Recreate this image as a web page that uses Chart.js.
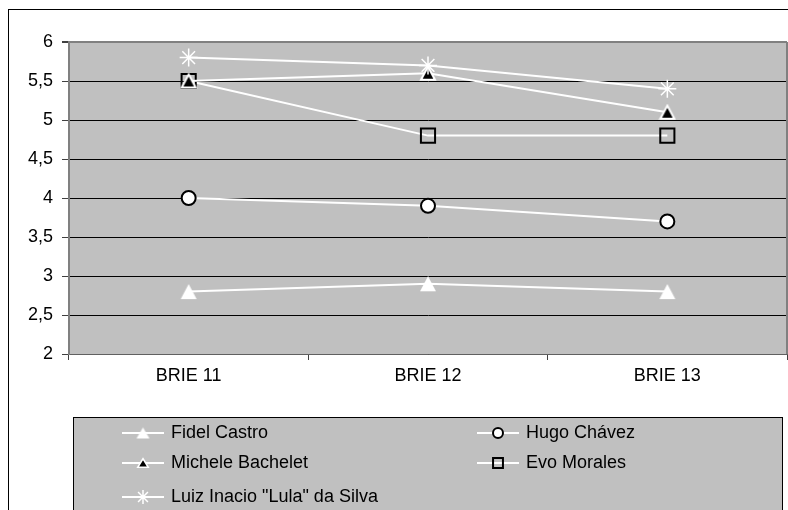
<!DOCTYPE html>
<html><head><meta charset="utf-8">
<script src="https://cdn.jsdelivr.net/npm/chart.js@4/dist/chart.umd.min.js"></script>
<style>html,body{margin:0;padding:0;background:#fff;overflow:hidden;} #wrap{width:788px;height:510px;position:relative;overflow:hidden;} canvas{display:block;}</style>
</head><body><div id="wrap"><canvas id="c" width="799" height="510"></canvas></div>
<script>
const categories = ["BRIE 11", "BRIE 12", "BRIE 13"];
const fidelCastro = [2.8, 2.9, 2.8];
const hugoChavez = [4.0, 3.9, 3.7];
const micheleBachelet = [5.5, 5.6, 5.1];
const evoMorales = [5.5, 4.8, 4.8];
const lulaDaSilva = [5.8, 5.7, 5.4];
const seriesNames = ["Fidel Castro", "Hugo Chávez", "Michele Bachelet", "Evo Morales", 'Luiz Inacio "Lula" da Silva'];
const yMin = 2, yMax = 6, yStep = 0.5;

const FONT = "'Liberation Sans', Arial, sans-serif";

// triangle marker image, centred on its bounding box
function triangleImg(w, h, fill, stroke, lw) {
  const c = document.createElement('canvas');
  c.width = w + 2; c.height = h + 2;
  const g = c.getContext('2d');
  g.beginPath();
  g.moveTo(c.width / 2, 1 + lw / 2);
  g.lineTo(c.width - 1 - lw / 2, c.height - 1 - lw / 2);
  g.lineTo(1 + lw / 2, c.height - 1 - lw / 2);
  g.closePath();
  g.fillStyle = fill; g.fill();
  if (lw > 0) { g.strokeStyle = stroke; g.lineWidth = lw; g.stroke(); }
  return c;
}

function ds(label, data, style, radius, bg, border, bw, legendStyle, legendRadius, order) {
  return {
    label, data, order,
    borderColor: '#ffffff', borderWidth: 2, tension: 0,
    pointStyle: style, pointRadius: radius, pointHoverRadius: radius,
    pointBackgroundColor: bg, pointBorderColor: border, pointBorderWidth: bw,
    legendStyle, legendRadius
  };
}

const datasets = [
  ds(seriesNames[0], fidelCastro, triangleImg(16, 15, '#ffffff', '#ffffff', 0), 9, '#ffffff', '#ffffff', 1,
     triangleImg(13, 11, '#ffffff', '#ffffff', 0), 7, 5),
  ds(seriesNames[1], hugoChavez, 'circle', 7, '#ffffff', '#000000', 2, 'circle', 5, 4),
  ds(seriesNames[2], micheleBachelet, triangleImg(16, 15, '#000000', '#ffffff', 2), 9, '#000000', '#ffffff', 1.5,
     triangleImg(12, 10, '#000000', '#ffffff', 1.5), 6, 2),
  ds(seriesNames[3], evoMorales, 'rect', 10, 'rgba(0,0,0,0)', '#000000', 2, 'rect', 7, 3),
  ds(seriesNames[4], lulaDaSilva, 'star', 9, '#ffffff', '#ffffff', 1.5, 'star', 7, 1)
];

const bgPlugin = {
  id: 'bg',
  beforeDraw(chart) {
    const ctx = chart.ctx, a = chart.chartArea;
    ctx.save();
    ctx.fillStyle = '#ffffff';
    ctx.fillRect(0, 0, chart.width, chart.height);
    ctx.strokeStyle = '#000000';
    ctx.lineWidth = 1;
    ctx.strokeRect(8.5, 9.5, 1000, 1000);
    ctx.fillStyle = '#c0c0c0';
    ctx.fillRect(a.left, a.top, a.right - a.left, a.bottom - a.top);
    ctx.restore();
  },
  afterDraw(chart) {
    const ctx = chart.ctx, a = chart.chartArea;
    ctx.save();
    ctx.strokeStyle = '#808080';
    ctx.lineWidth = 2;
    ctx.beginPath();
    ctx.moveTo(a.right, a.top);
    ctx.lineTo(a.right, a.bottom);
    ctx.stroke();
    // legend box
    ctx.fillStyle = '#c0c0c0';
    ctx.fillRect(73.5, 417.5, 709, 200);
    ctx.strokeStyle = '#000000';
    ctx.lineWidth = 1;
    ctx.strokeRect(73.5, 417.5, 709, 200);
    const rowsY = [433, 463, 497];
    chart.data.datasets.forEach((d, i) => {
      const col = i % 2, row = Math.floor(i / 2);
      const x0 = col ? 477 : 122;
      const tx = col ? 526 : 171;
      const y = rowsY[row];
      ctx.strokeStyle = '#ffffff';
      ctx.lineWidth = 2;
      ctx.beginPath();
      ctx.moveTo(x0, y);
      ctx.lineTo(x0 + 42, y);
      ctx.stroke();
      ctx.fillStyle = d.pointBackgroundColor;
      ctx.strokeStyle = d.pointBorderColor;
      ctx.lineWidth = d.pointBorderWidth;
      Chart.helpers.drawPoint(ctx, {pointStyle: d.legendStyle, radius: d.legendRadius, borderWidth: d.pointBorderWidth, rotation: 0}, x0 + 21, y);
      ctx.fillStyle = '#000000';
      ctx.font = '18px ' + FONT;
      ctx.textBaseline = 'middle';
      ctx.textAlign = 'left';
      ctx.fillText(d.label, tx, y);
    });
    ctx.restore();
  }
};

new Chart(document.getElementById('c'), {
  type: 'line',
  data: { labels: categories, datasets },
  plugins: [bgPlugin],
  options: {
    responsive: false,
    animation: false,
    devicePixelRatio: 1,
    layout: { padding: { left: 0, top: 42, right: 1, bottom: 116 } },
    plugins: { legend: { display: false }, tooltip: { enabled: false } },
    elements: { line: { fill: false } },
    scales: {
      x: {
        type: 'category',
        offset: true,
        grid: { offset: true, drawOnChartArea: false, drawTicks: true, tickLength: 6, color: '#404040', lineWidth: 1 },
        border: { color: '#606060', width: 1 },
        ticks: { color: '#000000', font: { family: FONT, size: 18 }, padding: 5, maxRotation: 0 },
        afterFit(s) { s.height = 40; s.paddingLeft = 0; s.paddingRight = 0; }
      },
      y: {
        min: yMin, max: yMax,
        ticks: {
          stepSize: yStep, color: '#000000', font: { family: FONT, size: 18 }, padding: 9,
          callback: v => String(v).replace('.', ',')
        },
        grid: {
          color: c => (c.tick && c.tick.value === yMax) ? '#808080' : '#000000',
          lineWidth: c => (c.tick && c.tick.value === yMax) ? 2 : 1,
          tickColor: '#404040', tickLength: 7, drawTicks: true
        },
        border: { color: '#808080', width: 2 },
        afterFit(s) { s.width = 69; s.paddingTop = 0; s.paddingBottom = 0; }
      }
    }
  }
});
</script>
</body></html>
